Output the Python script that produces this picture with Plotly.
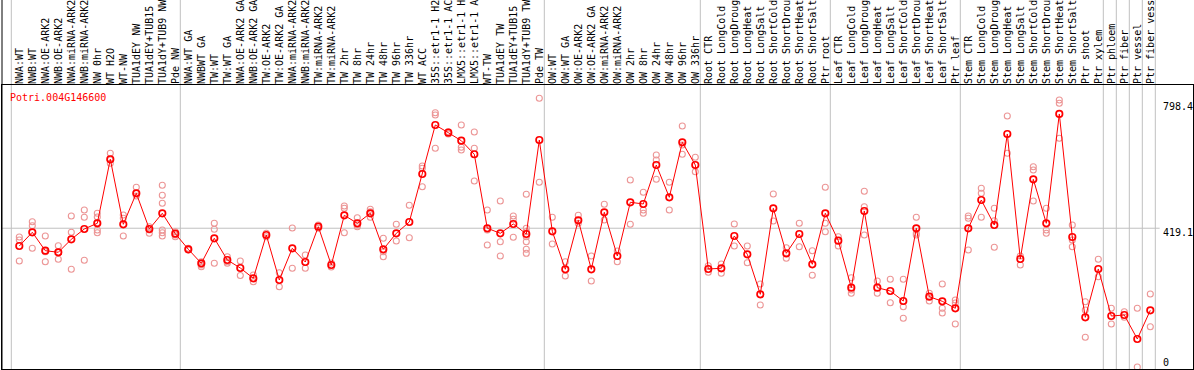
import plotly.graph_objects as go

gene_id = "Potri.004G146600"

categories = [
    "NWA:WT", "NWB:WT", "NWA:OE-ARK2", "NWB:OE-ARK2", "NWA:miRNA-ARK2", "NWB:miRNA-ARK2",
    "NW 0hr", "WT H2O", "WT-NW", "TUA1dEY NW", "TUA1dEY+TUB15", "TUA1dY+TUB9 NW", "Pde NW",
    "NWA:WT GA", "NWBWT GA", "TW:WT", "TW:WT GA", "NWA:OE-ARK2 GA", "NWB:OE-ARK2 GA",
    "TW:OE-ARK2", "TW:OE-ARK2 GA", "NWA:miRNA-ARK2", "NWB:miRNA-ARK2", "TW:miRNA-ARK2",
    "TW:miRNA-ARK2", "TW 2hr", "TW 8hr", "TW 24hr", "TW 48hr", "TW 96hr", "TW 336hr",
    "WT ACC", "35S::etr1-1 H2", "35S::etr1-1 AC", "LMX5::etr1-1 H", "LMX5::etr1-1 A",
    "WT-TW", "TUA1dEY TW", "TUA1dEY+TUB15", "TUA1dY+TUB9 TW", "Pde TW",
    "OW:WT", "OW:WT GA", "OW:OE-ARK2", "OW:OE-ARK2 GA", "OW:miRNA-ARK2", "OW:miRNA-ARK2",
    "OW 2hr", "OW 8hr", "OW 24hr", "OW 48hr", "OW 96hr", "OW 336hr",
    "Root CTR", "Root LongCold", "Root LongDroug", "Root LongHeat", "Root LongSalt",
    "Root ShortCold", "Root ShortDrou", "Root ShortHeat", "Root ShortSalt", "Ptr root",
    "Leaf CTR", "Leaf LongCold", "Leaf LongDroug", "Leaf LongHeat", "Leaf LongSalt",
    "Leaf ShortCold", "Leaf ShortDrou", "Leaf ShortHeat", "Leaf ShortSalt", "Ptr leaf",
    "Stem CTR", "Stem LongCold", "Stem LongDroug", "Stem LongHeat", "Stem LongSalt",
    "Stem ShortCold", "Stem ShortDrou", "Stem ShortHeat", "Stem ShortSalt",
    "Ptr shoot", "Ptr xylem", "Ptr phloem", "Ptr fiber", "Ptr vessel", "Ptr fiber vess",
]

means = [
    365.4, 406.8, 351.2, 346.4, 385.7, 416.8, 434.0, 627.3, 431.0, 524.6, 416.8, 464.2, 402.6,
    355.5, 313.2, 388.7, 323.1, 299.0, 267.9, 398.6, 262.7, 358.5, 317.1, 423.7, 308.0,
    458.1, 434.0, 464.2, 355.5, 403.8, 437.9,
    582.9, 730.8, 707.6, 683.4, 642.4,
    418.9, 403.8, 431.9, 401.7, 685.5,
    409.8, 295.1, 443.0, 295.1, 467.2, 335.2, 497.4, 492.3, 610.0, 512.5, 678.6, 610.0,
    296.0, 298.1, 395.6, 340.4, 219.6, 479.3, 343.4, 401.7, 310.2, 464.2,
    381.4, 239.5, 471.1, 239.5, 229.5, 199.3, 418.9, 212.3, 198.4, 177.3,
    418.9, 504.3, 428.8, 703.7, 326.2, 566.9, 434.0, 764.1, 392.6,
    150.1, 296.0, 154.0, 157.0, 84.6, 171.2,
]

replicates = [
    [392.6, 383.5, 320.1], [438.8, 426.7, 358.5], [395.6, 348.2, 318.0], [366.3, 346.4, 325.3],
    [456.0, 406.8, 295.1], [474.1, 452.1, 322.2], [464.2, 453.0, 435.8, 413.7, 405.6],
    [645.4, 625.1, 615.2], [459.0, 449.1, 395.6], [542.7, 524.6, 516.4], [423.7, 413.7, 403.8],
    [548.7, 518.5, 494.4, 413.7, 405.6, 395.6], [408.6, 398.6, 393.5],
    [358.5, 353.3], [318.0, 308.0, 302.9], [434.0, 415.9, 313.2], [333.1, 318.0, 313.2],
    [320.1, 276.3], [277.8, 257.6], [403.8, 393.5], [284.8, 242.5], [419.8, 298.1],
    [338.2, 298.1], [428.8, 418.9], [314.1, 302.0],
    [486.2, 479.3, 405.6], [450.9, 428.8, 423.7], [476.3, 469.0, 452.1], [388.7, 348.2, 333.1],
    [431.0, 380.5], [488.3, 390.5],
    [607.0, 600.1, 544.5], [768.0, 761.0, 660.5], [710.6, 703.7], [730.8, 663.5, 655.3],
    [709.7, 660.5, 561.7],
    [474.1, 413.7, 368.4], [501.3, 378.4, 335.2], [456.0, 446.1, 391.7],
    [521.6, 418.9, 408.6, 393.5, 378.4, 355.5, 343.4], [811.5, 557.8],
    [452.1, 371.5], [318.0, 274.8], [458.1, 434.0], [335.2, 259.7], [491.4, 443.9],
    [350.3, 318.0], [564.7, 431.0], [527.6, 474.1, 464.2], [640.2, 625.1, 566.9],
    [557.8, 474.1], [727.8, 670.4, 642.4], [633.3, 589.8],
    [305.9, 286.0], [311.1, 283.0], [431.9, 365.4], [365.4, 315.0], [250.7, 187.2],
    [522.5, 440.9], [360.3, 328.3], [434.0, 363.3], [351.2, 276.9], [542.7, 434.0, 408.6],
    [393.5, 365.4], [269.7, 232.5, 222.6], [530.6, 484.1, 398.6], [259.7, 222.6],
    [264.9, 194.2], [264.9, 182.1, 147.1], [452.1, 398.6, 403.8], [222.6, 199.3],
    [250.7, 177.3, 163.1], [202.3, 193.3, 129.9],
    [456.0, 449.1, 353.3], [539.7, 524.6, 452.1], [479.3, 441.8, 361.5], [758.0, 645.4],
    [335.2, 308.0], [604.9, 594.9, 501.3], [479.3, 413.7, 403.8], [806.3, 796.4, 690.7],
    [428.8, 383.5, 363.3],
    [197.2, 172.1, 89.7], [325.3, 272.7], [177.3, 129.9], [167.0, 150.1], [177.3, 0.0],
    [220.5, 121.7],
]

# last category index of each group (group separators), -1 = left edge
group_ends = [-1, 12, 40, 52, 62, 72, 83, 84, 85, 86, 87]

scale_labels = ["798.4", "419.1", "0"]
scale_values = [798.4, 419.1, 0.0]
mid_level = 419.1

n = len(categories)
xs = list(range(n))

rep_x, rep_y = [], []
for i, reps in enumerate(replicates):
    for v in reps:
        rep_x.append(i)
        rep_y.append(v)

mono = "DejaVu Sans Mono"
fig = go.Figure()

fig.add_trace(go.Scatter(
    x=rep_x, y=rep_y, mode="markers",
    marker=dict(symbol="circle-open", size=6, color="#EC9696", line=dict(width=1.1, color="#EC9696")),
    hoverinfo="skip", showlegend=False,
))
fig.add_trace(go.Scatter(
    x=xs, y=means, mode="lines+markers",
    line=dict(color="#FF0000", width=1),
    marker=dict(symbol="circle-open", size=6.5, color="#FF0000", line=dict(width=1.7, color="#FF0000")),
    hoverinfo="skip", showlegend=False,
))

shapes = []
for e in group_ends:
    shapes.append(dict(type="line", xref="x", yref="paper", x0=e + 0.385, x1=e + 0.385,
                       y0=0, y1=1.35, line=dict(color="#C0C0C0", width=1), layer="below"))
shapes.append(dict(type="line", xref="paper", yref="y", x0=0, x1=0.972,
                   y0=mid_level, y1=mid_level, line=dict(color="#C0C0C0", width=1), layer="below"))
shapes.append(dict(type="line", xref="paper", yref="paper", x0=0, x1=0,
                   y0=0, y1=1.35, line=dict(color="black", width=1)))

annotations = [dict(
    text=gene_id, xref="paper", yref="paper", x=0, y=1, xanchor="left", yanchor="top",
    xshift=6, yshift=-5, showarrow=False, font=dict(family=mono, size=10, color="#FF0000"),
)]
label_shifts = [-4, -4, 5]
for lab, val, sh in zip(scale_labels, scale_values, label_shifts):
    annotations.append(dict(
        text=lab, xref="x", yref="y", x=n, y=val, xanchor="left", yanchor="middle",
        xshift=-2, yshift=sh, showarrow=False, font=dict(family=mono, size=10, color="black"),
    ))

fig.update_layout(
    width=1194, height=370,
    margin=dict(l=2, r=1, t=85, b=1, pad=0),
    paper_bgcolor="white", plot_bgcolor="white",
    showlegend=False,
    shapes=shapes, annotations=annotations,
    xaxis=dict(
        range=[-1.331, 90.285], tickmode="array", tickvals=xs, ticktext=categories,
        side="top", tickangle=-90, ticks="", showgrid=False, zeroline=False,
        showline=True, mirror=True, linecolor="black", linewidth=1, ticklabelstandoff=-2,
        tickfont=dict(family=mono, size=10, color="black"), automargin=False,
    ),
    yaxis=dict(
        range=[-6.04, 851.6], showticklabels=False, ticks="", showgrid=False, zeroline=False,
        showline=True, mirror=True, linecolor="black", linewidth=1, automargin=False,
    ),
)

fig.write_html(
    "out.html",
    config={"displayModeBar": False},
    post_script="document.body.style.margin='0';document.body.style.padding='0';"
                "document.body.style.overflow='hidden';",
)
